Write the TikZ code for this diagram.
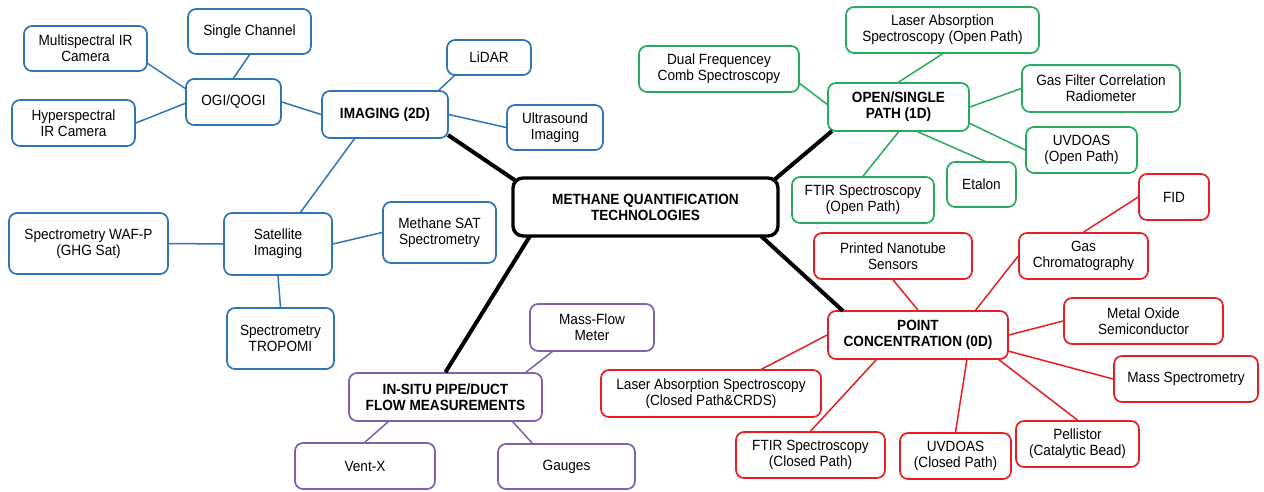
\documentclass[tikz,border=0pt]{standalone}
\usepackage{fontspec}
\setmainfont{Liberation Sans}[FakeStretch=0.92]
\usetikzlibrary{calc}
\definecolor{cblue}{RGB}{46,117,182}
\definecolor{cgreen}{RGB}{40,172,92}
\definecolor{cred}{RGB}{232,30,36}
\definecolor{cpurple}{RGB}{128,96,170}
\tikzset{
  bx/.style={draw, rounded corners=8pt, line width=1.7pt, align=center, inner sep=0pt, fill=white,
     font=\fontsize{14.8}{16.2}\selectfont},
  sz/.style 2 args={minimum width=#1pt, minimum height=#2pt},
  bl/.style={bx, draw=cblue},
  gr/.style={bx, draw=cgreen},
  rd/.style={bx, draw=cred},
  pu/.style={bx, draw=cpurple},
  hub/.style={font=\fontsize{14.8}{16.2}\selectfont\bfseries},
  lk/.style={line width=1.5pt},
  main/.style={line width=4pt, black},
}
\begin{document}
\begin{tikzpicture}[x=1pt,y=-1pt]
\useasboundingbox (0,0) rectangle (1264,491);
% center
\node[bx, draw=black, line width=3.4pt, rounded corners=10pt, sz={265}{58}, hub] (center) at (645.5,207) {METHANE QUANTIFICATION\\TECHNOLOGIES};
% imaging group
\node[bl, sz={126}{47}, hub] (imaging) at (385,114.5) {IMAGING (2D)};
\node[bl, sz={95}{46}] (ogi) at (233.5,102) {OGI/QOGI};
\node[bl, sz={123}{45}] (single) at (249.5,31.5) {Single Channel};
\node[bl, sz={123}{45}] (multi) at (85.5,48.5) {Multispectral IR\\Camera};
\node[bl, sz={123}{46}] (hyper) at (73.5,123) {Hyperspectral\\IR Camera};
\node[bl, sz={84}{35}] (lidar) at (489,57.5) {LiDAR};
\node[bl, sz={96}{45}] (ultra) at (555,127.5) {Ultrasound\\Imaging};
\node[bl, sz={108}{62}] (sat) at (278,244) {Satellite\\Imaging};
\node[bl, sz={159}{61}] (wafp) at (88.5,243.5) {Spectrometry WAF-P\\(GHG Sat)};
\node[bl, sz={113}{61}] (msat) at (439.5,232.5) {Methane SAT\\Spectrometry};
\node[bl, sz={107}{61}] (tropomi) at (280.5,338.5) {Spectrometry\\TROPOMI};
% open path group
\node[gr, sz={141}{48}, hub] (open) at (898.5,107) {OPEN/SINGLE\\PATH (1D)};
\node[gr, sz={193}{46}] (laseropen) at (942.5,30) {Laser Absorption\\Spectroscopy (Open Path)};
\node[gr, sz={160}{46}] (dual) at (719,69) {Dual Frequencey\\Comb Spectroscopy};
\node[gr, sz={158}{47}] (gfcr) at (1101,88.5) {Gas Filter Correlation\\Radiometer};
\node[gr, sz={111}{46}] (uvopen) at (1081.5,150) {UVDOAS\\(Open Path)};
\node[gr, sz={69}{45}] (etalon) at (981.5,184.5) {Etalon};
\node[gr, sz={142}{46}] (ftiropen) at (863,200) {FTIR Spectroscopy\\(Open Path)};
% point group
\node[rd, sz={180}{48}, hub] (point) at (918,335) {POINT\\CONCENTRATION (0D)};
\node[rd, sz={70}{46}] (fid) at (1174,197) {FID};
\node[rd, sz={129}{46}] (gc) at (1083.5,256) {Gas\\Chromatography};
\node[rd, sz={158}{46}] (nano) at (893,256) {Printed Nanotube\\Sensors};
\node[rd, sz={159}{46}] (mos) at (1143.5,321) {Metal Oxide\\Semiconductor};
\node[rd, sz={144}{46}] (ms) at (1186,379) {Mass Spectrometry};
\node[rd, sz={220}{47}] (laserclosed) at (711,393.5) {Laser Absorption Spectroscopy\\(Closed Path\&CRDS)};
\node[rd, sz={149}{46}] (ftirclosed) at (810.5,455) {FTIR Spectroscopy\\(Closed Path)};
\node[rd, sz={111}{46}] (uvclosed) at (955.5,456) {UVDOAS\\(Closed Path)};
\node[rd, sz={123}{46}] (pell) at (1077.5,444) {Pellistor\\(Catalytic Bead)};
% in-situ group
\node[pu, sz={193}{48}, hub] (insitu) at (445.5,397) {IN-SITU PIPE/DUCT\\FLOW MEASUREMENTS};
\node[pu, sz={124}{47}] (massflow) at (592,327.5) {Mass-Flow\\Meter};
\node[pu, sz={140}{46}] (ventx) at (365,466) {Vent-X};
\node[pu, sz={137}{45}] (gauges) at (566.5,466.5) {Gauges};
% main connectors
\draw[main] ($(center)+(-129.5,-26)$) -- ($(imaging)+(63,20.5)$);
\draw[main] ($(center)+(128.5,-27)$) -- ($(open)+(-66.5,24)$);
\draw[main] ($(center)+(-115.5,29)$) -- (insitu.north);
\draw[main] ($(center)+(115.5,29)$) -- ($(point)+(-75,-24)$);
% blue
\begin{scope}[lk, cblue]
\draw (ogi.north) -- (single.south);
\draw ($(ogi)+(-47.5,-13)$) -- ($(multi)+(61.5,14.5)$);
\draw ($(ogi)+(-47.5,1)$) -- (hyper.east);
\draw (ogi.east) -- (imaging.west);
\draw ($(imaging)+(53,-23.5)$) -- ($(lidar)+(-34,17.5)$);
\draw (imaging.east) -- (ultra.west);
\draw ($(imaging)+(-30,23.5)$) -- ($(sat)+(22,-31)$);
\draw (sat.west) -- (wafp.east);
\draw (sat.east) -- (msat.west);
\draw (sat.south) -- (tropomi.north);
\end{scope}
% green
\begin{scope}[lk, cgreen]
\draw (open.north) -- (laseropen.south);
\draw ($(open)+(-70.5,-2)$) -- ($(dual)+(80,14)$);
\draw (open.east) -- (gfcr.west);
\draw ($(open)+(70.5,16)$) -- (uvopen.west);
\draw ($(open)+(17.5,24)$) -- ($(etalon)+(5,-22.5)$);
\draw (open.south) -- (ftiropen.north);
\end{scope}
% red
\begin{scope}[lk, cred]
\draw (fid.west) -- (gc.north);
\draw (gc.west) -- ($(point)+(57,-24)$);
\draw (nano.south) -- (point.north);
\draw (mos.west) -- (point.east);
\draw (ms.west) -- ($(point)+(90,16)$);
\draw (pell.north) -- ($(point)+(80,24)$);
\draw (uvclosed.north) -- ($(point)+(49,24)$);
\draw (ftirclosed.north) -- ($(point)+(-41,24)$);
\draw ($(laserclosed)+(49,-23.5)$) -- (point.west);
\end{scope}
% purple
\begin{scope}[lk, cpurple]
\draw ($(massflow)+(-39,23.5)$) -- ($(insitu)+(79.5,-24)$);
\draw ($(insitu)+(-56.5,24)$) -- (ventx.north);
\draw ($(insitu)+(66.5,24)$) -- ($(gauges)+(-33.5,-22.5)$);
\end{scope}
\end{tikzpicture}
\end{document}
